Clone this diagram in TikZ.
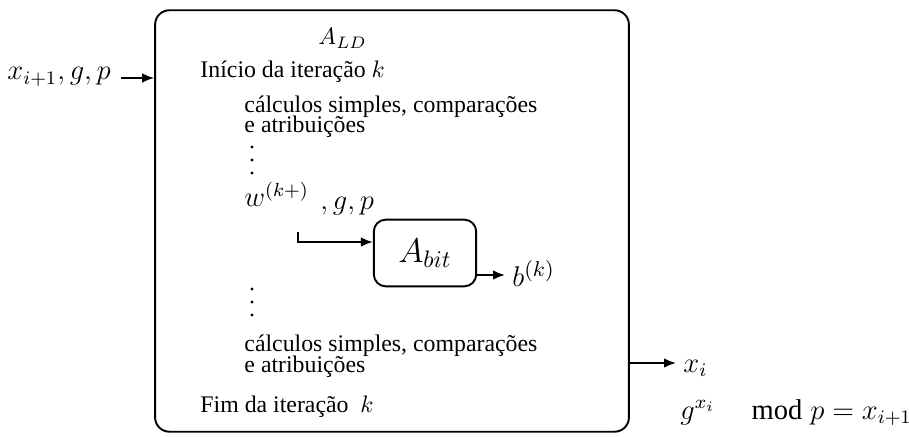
\documentclass[tikz,border=0pt]{standalone}
\usepackage{fontspec}
\setmainfont{Liberation Serif}
\usepackage{amsmath}
\usetikzlibrary{arrows.meta}
\setlength{\lineskiplimit}{-20pt}

\begin{document}
\begin{tikzpicture}[x=0.42pt, y=-0.42pt,
  outer/.style={rectangle, draw, thick, rounded corners=6pt,
                minimum width=199pt, minimum height=177pt, inner sep=0pt},
  sub/.style={rectangle, draw, thick, rounded corners=5pt,
              minimum width=43pt, minimum height=28pt, inner sep=0pt,
              font=\fontsize{14}{16}\selectfont},
  txt/.style={anchor=base west, inner sep=0pt, align=left,
              font=\fontsize{10}{12}\selectfont},
  lines/.style={txt, font=\fontsize{10}{#1}\selectfont},
  big/.style={txt, font=\fontsize{#1}{14}\selectfont},
  arr/.style={-{Latex[length=5pt,width=4pt]}, thick}
]
\useasboundingbox (0,0) rectangle (909,437);

% main box
\node[outer] (ld) at (392,221) {};
\node[txt] (tld) at (318,45) {$A_{LD}$};

\node[big=12] (in) at (7,80) {$x_{i+1}, g, p$};

\node[txt] (ini) at (200,78) {Início da iteração $k$};
\node[lines=8.6] (c1) at (244,133) {cálculos simples, comparações\\e atribuições};

% vertical dots
\foreach \y in {147,160,173}
  \fill (252,\y) circle (1.6);

\node[big=12] (w) at (244,207) {$w^{(k+)}$};
\node[big=12] (gp) at (320,210) {$,g,p$};

\node[sub] (bit) at (425,253) {$A_{bit}$};
\node[big=12.5] (b) at (512,287) {$b^{(k)}$};

\foreach \y in {289,302,315}
  \fill (252,\y) circle (1.6);

\node[lines=8.8] (c2) at (244,372) {cálculos simples, comparações\\e atribuições};
\node[txt] (fim) at (200,413) {Fim da iteração \ $k$};

\node[big=12] (xi) at (683,372) {$x_i$};
\node[big=12] (eq) at (680,419) {$g^{x_i}\quad\bmod p = x_{i+1}$};

% connectors
\coordinate (wdrop) at (298,232);
\coordinate (wend) at (298,242);
\coordinate (bout) at (505,275);
\coordinate (ina) at (121,78);
\coordinate (xa) at (676,363);

\draw[arr] (ina) -- (ina -| ld.west);
\draw[arr] (wdrop) -- (wend) -- (wend -| bit.west);
\draw[arr] (bout -| bit.east) -- (bout);
\draw[arr] (xa -| ld.east) -- (xa);

\end{tikzpicture}
\end{document}
